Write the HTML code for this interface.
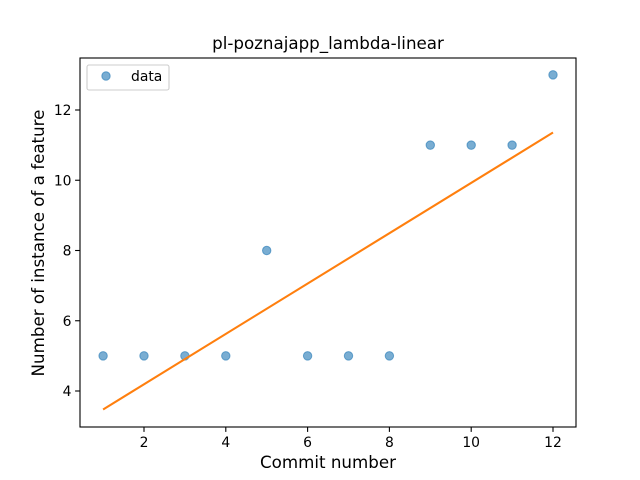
<!DOCTYPE html>
<html><head><meta charset="utf-8"><style>
body{margin:0;background:#fff;}
svg{display:block;font-family:"DejaVu Sans","Liberation Sans",sans-serif;}
</style></head><body>
<svg id="chart" width="640" height="480"></svg>
<script>
const xValues=[1,2,3,4,5,6,7,8,9,10,11,12];
const yValues=[5,5,5,5,8,5,5,5,11,11,11,13];
const xTicks=[2,4,6,8,10,12];
const yTicks=[4,6,8,10,12];
const NS="http://www.w3.org/2000/svg";
const svg=document.getElementById('chart');
const L=80,R=576,T=58,B=427;
function sx(v){return 103.1+(v-1)*40.9;}
function sy(v){return 391-(v-4)*35.125;}
function mk(t,a,txt){const e=document.createElementNS(NS,t);for(const k in a)e.setAttribute(k,a[k]);if(txt!==undefined)e.textContent=txt;svg.appendChild(e);return e;}
const n=xValues.length;
const mx=xValues.reduce((a,b)=>a+b,0)/n, my=yValues.reduce((a,b)=>a+b,0)/n;
let sxy=0,sxx=0;for(let i=0;i<n;i++){sxy+=(xValues[i]-mx)*(yValues[i]-my);sxx+=(xValues[i]-mx)**2;}
const slope=sxy/sxx, icpt=my-slope*mx;
const x0=Math.min(...xValues),x1=Math.max(...xValues);
for(let i=0;i<n;i++){
 const c=mk('circle',{cx:sx(xValues[i]),cy:sy(yValues[i]),r:4.2,fill:'#1f77b4','fill-opacity':0.6,stroke:'#1f77b4','stroke-opacity':0.6,'stroke-width':1});
 
 
}
const fl=mk('line',{x1:sx(x0),y1:sy(slope*x0+icpt),x2:sx(x1),y2:sy(slope*x1+icpt),stroke:'#ff7f0e','stroke-width':2.08});


const fr=mk('rect',{x:L,y:T,width:R-L,height:B-T,fill:'none',stroke:'#000','stroke-width':1.1});


xTicks.forEach(v=>{
 mk('line',{x1:sx(v),y1:B,x2:sx(v),y2:B+4.9,stroke:'#000','stroke-width':1.1});
 const t=mk('text',{x:sx(v),y:B+20,'font-size':13.9,'text-anchor':'middle'},String(v));
 
 
});
yTicks.forEach(v=>{
 mk('line',{x1:L,y1:sy(v),x2:L-4.9,y2:sy(v),stroke:'#000','stroke-width':1.1});
 const t=mk('text',{x:L-8.5,y:sy(v)+5,'font-size':13.9,'text-anchor':'end'},String(v));
 
 
});
</script>
<svg width="640" height="480" style="position:absolute;left:0;top:0">
<text x="328" y="49" font-size="16.7" text-anchor="middle" font-family="DejaVu Sans, Liberation Sans, sans-serif">pl-poznajapp_lambda-linear</text>
<text x="328" y="468" font-size="16.7" text-anchor="middle" font-family="DejaVu Sans, Liberation Sans, sans-serif">Commit number</text>
<text x="0" y="0" font-size="16.7" text-anchor="middle" transform="translate(44,243) rotate(-90)" font-family="DejaVu Sans, Liberation Sans, sans-serif">Number of instance of a feature</text>
<g>
<rect x="87" y="65" width="82" height="25" rx="2" fill="#fff" fill-opacity="0.8" stroke="#ccc" stroke-width="1.1"/>
<circle cx="106" cy="76" r="4.2" fill="#1f77b4" fill-opacity="0.6" stroke="#1f77b4" stroke-opacity="0.6"/>
<text x="131" y="81" font-size="13.9" font-family="DejaVu Sans, Liberation Sans, sans-serif">data</text>
</g>
</svg>
</body></html>
